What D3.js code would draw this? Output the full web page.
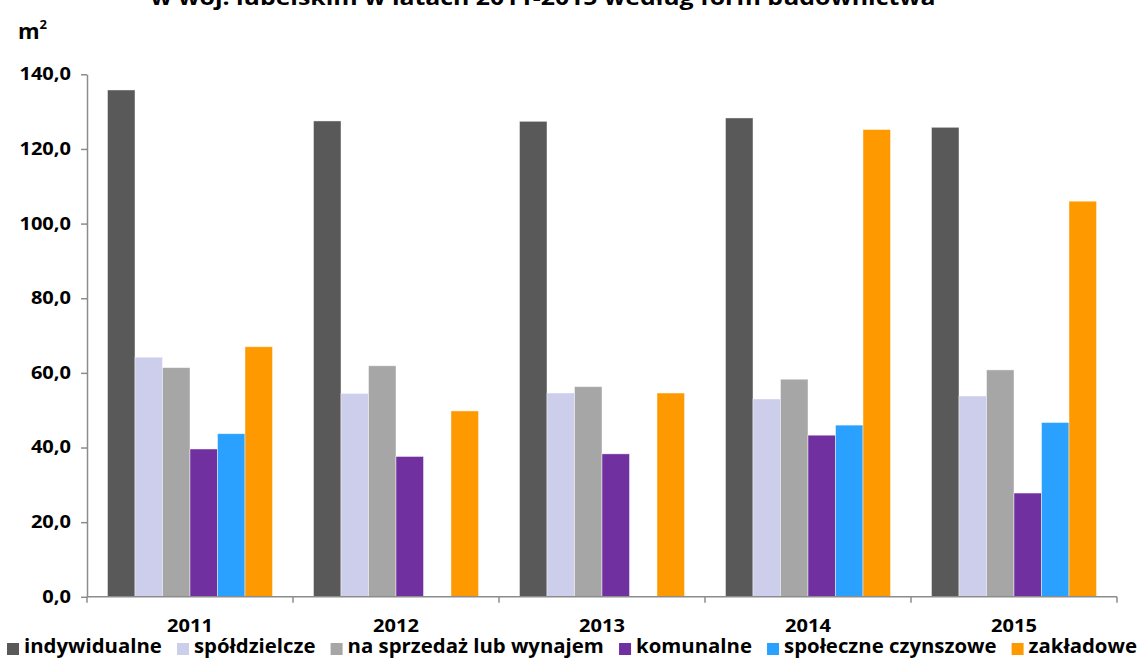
<!DOCTYPE html>
<html lang="pl">
<head>
<meta charset="utf-8">
<script src="https://cdn.jsdelivr.net/npm/d3@7/dist/d3.min.js"></script>
<style>
  html, body { margin: 0; padding: 0; background: #fff; }
  svg { display: block; font-family: "Open Sans", Lato, "DejaVu Sans", sans-serif; font-weight: 700; }
</style>
</head>
<body>
<svg id="chart" width="1139" height="659"></svg>
<script>
// Average usable floor area of dwellings completed, by form of construction
const years = ["2011", "2012", "2013", "2014", "2015"];
const seriesNames = ["indywidualne", "spółdzielcze", "na sprzedaż lub wynajem", "komunalne", "społeczne czynszowe", "zakładowe"];
const indywidualne = [135.8, 127.5, 127.4, 128.3, 125.8];
const spoldzielcze = [64.2, 54.5, 54.6, 53.0, 53.8];
const naSprzedaz = [61.4, 61.9, 56.3, 58.3, 60.8];
const komunalne = [39.6, 37.6, 38.3, 43.3, 27.8];
const spoleczneCzynszowe = [43.7, null, null, 46.0, 46.7];
const zakladowe = [67.0, 49.8, 54.6, 125.2, 106.0];
const yTicks = [0, 20, 40, 60, 80, 100, 120, 140];
const colors = ["#595959", "#CDCDEC", "#A6A6A6", "#7030A0", "#2AA1FF", "#FF9900"];

const values = [indywidualne, spoldzielcze, naSprzedaz, komunalne, spoleczneCzynszowe, zakladowe];

const svg = d3.select("#chart");
const plotLeft = 87, plotRight = 1117, plotTop = 74.3, plotBottom = 596.8;

const x = d3.scaleBand().domain(years).range([plotLeft, plotRight]).padding(0);
const xs = d3.scaleBand().domain(seriesNames).range([0, x.bandwidth()])
  .paddingInner(0).paddingOuter(0.745);
const y = d3.scaleLinear().domain([0, 140]).range([plotBottom, plotTop]);

// Widen text horizontally by a factor, keeping its glyph height
function widen(sel, factor) {
  sel.each(function () {
    const w = this.getComputedTextLength();
    d3.select(this).attr("textLength", w * factor).attr("lengthAdjust", "spacingAndGlyphs");
  });
}

// Title (its upper part runs past the top edge)
const title = svg.append("text")
  .attr("x", 543).attr("y", 5)
  .attr("text-anchor", "middle")
  .attr("font-size", 22)
  .attr("fill", "#000")
  .text("w woj. lubelskim w latach 2011-2015 według form budownictwa");
title.attr("textLength", 785).attr("lengthAdjust", "spacingAndGlyphs");

// Unit label
const unit = svg.append("text").attr("x", 18).attr("y", 39).attr("font-size", 22).attr("fill", "#000");
unit.append("tspan").text("m");
unit.append("tspan").attr("font-size", 13).attr("dy", -10).text("2");

// Bars
const cells = [];
years.forEach((yr, i) => {
  seriesNames.forEach((s, j) => {
    const v = values[j][i];
    if (v !== null && v !== undefined) cells.push({ year: yr, series: s, value: v, color: colors[j] });
  });
});

svg.append("g").selectAll("rect").data(cells).join("rect")
  .attr("x", d => x(d.year) + xs(d.series))
  .attr("y", d => y(d.value))
  .attr("width", xs.bandwidth())
  .attr("height", d => y(0) - y(d.value))
  .attr("fill", d => d.color)
  .attr("stroke", "rgba(255,255,255,0.55)")
  .attr("stroke-width", 0.8);

// Y axis
const fmt = v => d3.format(".1f")(v).replace(".", ",");
const yAxis = svg.append("g").attr("transform", `translate(${plotLeft},0)`)
  .call(d3.axisLeft(y).tickValues(yTicks).tickFormat(fmt).tickSizeInner(6).tickSizeOuter(0).tickPadding(10));
yAxis.select(".domain").attr("stroke", "#8c8c8c").attr("stroke-width", 1.5);
yAxis.selectAll(".tick line").attr("stroke", "#8c8c8c").attr("stroke-width", 1.5);
const yLabels = yAxis.selectAll(".tick text")
  .attr("font-size", 17).attr("font-family", "'Open Sans', sans-serif").attr("font-weight", 700).attr("fill", "#000");
widen(yLabels, 1.18);

// X axis: boundary ticks between years
const xAxis = svg.append("g").attr("transform", `translate(0,${plotBottom})`);
xAxis.append("line").attr("x1", plotLeft).attr("x2", plotRight).attr("y1", 0).attr("y2", 0)
  .attr("stroke", "#8c8c8c").attr("stroke-width", 1.5);
const bounds = years.map(yr => x(yr)).concat([plotRight]);
xAxis.selectAll("line.b").data(bounds).join("line").attr("class", "b")
  .attr("x1", d => d).attr("x2", d => d).attr("y1", 0).attr("y2", 6)
  .attr("stroke", "#8c8c8c").attr("stroke-width", 1.5);
const xLabels = xAxis.selectAll("text").data(years).join("text")
  .attr("x", d => x(d) + x.bandwidth() / 2)
  .attr("y", 35)
  .attr("text-anchor", "middle")
  .attr("font-size", 17)
  .attr("fill", "#000")
  .text(d => d);
widen(xLabels, 1.18);

// Legend: one row across the bottom, font sized so the row spans the width
const legendLeft = 7, legendRight = 1137, sw = 12, swGap = 5, itemGap = 15;
const lg = svg.append("g").attr("transform", "translate(0,647)");
const items = lg.selectAll("g").data(seriesNames).join("g");
const ltext = items.append("text").attr("y", 6).attr("font-size", 20).attr("fill", "#000").text(d => d);
const natural = [];
ltext.each(function () { natural.push(this.getComputedTextLength()); });
const fixedSpace = seriesNames.length * (sw + swGap) + (seriesNames.length - 1) * itemGap;
const scaleF = (legendRight - legendLeft - fixedSpace) / d3.sum(natural);
ltext.attr("font-size", 20 * scaleF).attr("x", sw + swGap);
let cursor = legendLeft;
items.each(function (d, i) {
  d3.select(this).attr("transform", `translate(${cursor},0)`);
  cursor += sw + swGap + natural[i] * scaleF + itemGap;
});
items.append("rect").attr("x", 0).attr("y", -4).attr("width", sw).attr("height", sw)
  .attr("fill", (d, i) => colors[i]);
</script>
</body>
</html>
